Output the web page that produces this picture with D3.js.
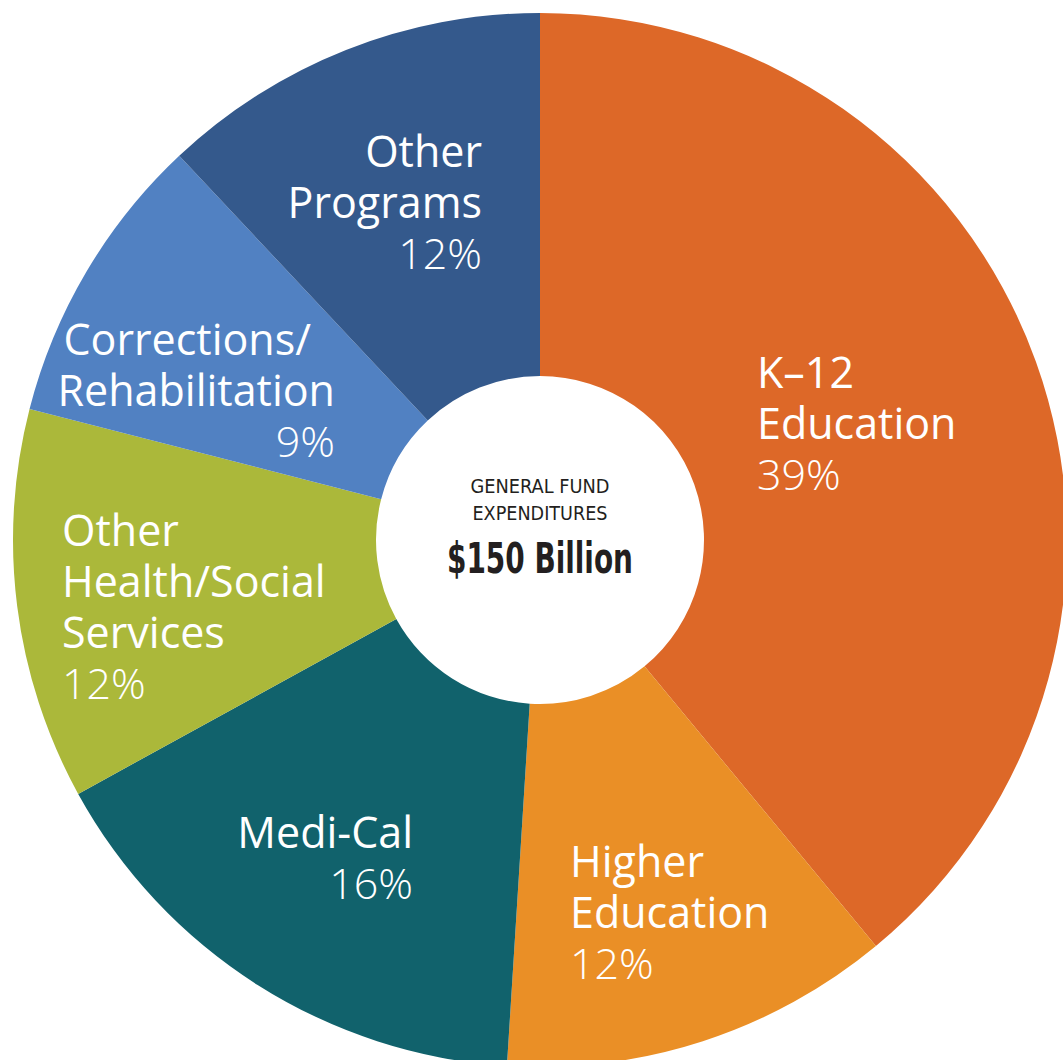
<!DOCTYPE html>
<html>
<head>
<meta charset="utf-8">
<script src="https://cdn.jsdelivr.net/npm/d3@7"></script>
<style>
  body { margin: 0; background: #fff; }
  svg { display: block; }
  .lbl { font-family: "Open Sans", sans-serif; fill: #fff; }
  .pct { font-weight: 300; }
</style>
</head>
<body>
<svg id="chart" width="1063" height="1060"></svg>
<script>
// General Fund expenditures, share of total (%)
var categories = ["K\u201312 Education", "Higher Education", "Medi-Cal",
	"Other Health/Social Services", "Corrections/Rehabilitation", "Other Programs"];
var values = [39, 12, 16, 12, 9, 12];
var labelLines = [
	["K\u201312", "Education"],
	["Higher", "Education"],
	["Medi-Cal"],
	["Other", "Health/Social", "Services"],
	["Corrections/", "Rehabilitation"],
	["Other", "Programs"]
];
var colors = ["#dd6828", "#ea8f26", "#11626c", "#abb83a", "#5181c2", "#34598c"];
var centerTitle = ["GENERAL FUND", "EXPENDITURES"];
var centerTotal = "$150 Billion";

function PieChart(elementId) {
	var svg = d3.select('#' + elementId),
		cx = 540, cy = 540,
		outerR = 527, innerR = 164,
		lineH = 51,
		g = svg.append("g").attr("transform", "translate(" + cx + "," + cy + ")");

	var data = categories.map(function (c, i) { return { name: c, value: values[i], lines: labelLines[i], color: colors[i] }; });

	var pie = d3.pie().sort(null).value(function (d) { return d.value; });
	var arc = d3.arc().innerRadius(innerR).outerRadius(outerR);

	g.selectAll("path.slice")
		.data(pie(data))
		.enter().append("path")
		.attr("class", "slice")
		.attr("fill", function (d) { return d.data.color; })
		.attr("d", arc);

	// label placement: first baseline relative to centre, and text anchor
	var place = [
		{ x: 217, y: -152, anchor: "start" },
		{ x: 30, y: 337, anchor: "start" },
		{ x: -127, y: 308, anchor: "end" },
		{ x: -478, y: 6, anchor: "start" },
		{ x: -205, y: -185, anchor: "end", dx: [-24, 0] },
		{ x: -58, y: -373, anchor: "end" }
	];

	// one text per line so the lines stay separate
	data.forEach(function (d, i) {
		var p = place[i];
		var lines = d.lines.concat([d.value + "%"]);
		lines.forEach(function (line, k) {
			g.append("text")
				.attr("class", k === d.lines.length ? "lbl pct" : "lbl")
				.attr("font-size", 43)
				.attr("text-anchor", p.anchor)
				.attr("x", p.x + (p.dx && k < p.dx.length ? p.dx[k] : 0))
				.attr("y", p.y + k * lineH)
				.text(line);
		});
	});

	// centre text
	var c = g.append("g").attr("fill", "#231f20");
	c.append("text")
		.attr("x", 0).attr("y", -47)
		.attr("text-anchor", "middle")
		.attr("font-family", "'DejaVu Sans Condensed', 'DejaVu Sans', sans-serif")
		.attr("font-stretch", "condensed")
		.attr("font-size", 20)
		.attr("textLength", 139)
		.attr("lengthAdjust", "spacingAndGlyphs")
		.text(centerTitle[0]);
	c.append("text")
		.attr("x", 0).attr("y", -20)
		.attr("text-anchor", "middle")
		.attr("font-family", "'DejaVu Sans Condensed', 'DejaVu Sans', sans-serif")
		.attr("font-stretch", "condensed")
		.attr("font-size", 20)
		.attr("textLength", 135)
		.attr("lengthAdjust", "spacingAndGlyphs")
		.text(centerTitle[1]);
	c.append("text")
		.attr("x", 0).attr("y", 33)
		.attr("text-anchor", "middle")
		.attr("font-family", "'DejaVu Sans Condensed', 'DejaVu Sans', sans-serif")
		.attr("font-stretch", "condensed")
		.attr("font-weight", "bold")
		.attr("font-size", 42)
		.attr("textLength", 186)
		.attr("lengthAdjust", "spacingAndGlyphs")
		.text(centerTotal);
}

new PieChart("chart");
</script>
</body>
</html>
